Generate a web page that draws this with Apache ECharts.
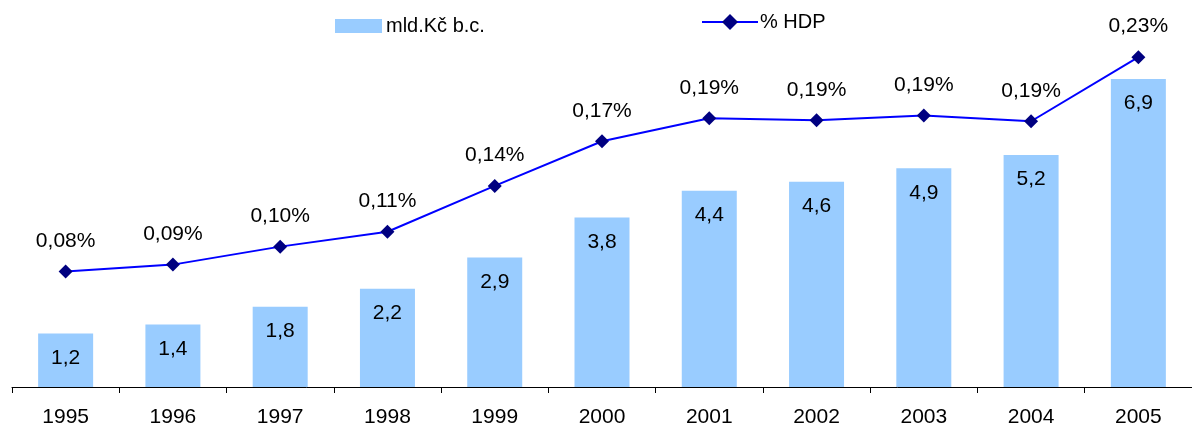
<!DOCTYPE html>
<html><head><meta charset="utf-8">
<script src="https://cdn.jsdelivr.net/npm/echarts@6/dist/echarts.min.js"></script>
<style>html,body{margin:0;padding:0;background:#fff}#c{width:1192px;height:428px}</style>
</head><body><div id="c"></div>
<script>
const categories = ['1995','1996','1997','1998','1999','2000','2001','2002','2003','2004','2005'];
const barValues = [1.2, 1.4, 1.8, 2.2, 2.9, 3.8, 4.4, 4.6, 4.9, 5.2, 6.9];
const hdpValues = [0.0808, 0.0857, 0.0983, 0.1087, 0.1408, 0.1721, 0.1882, 0.1868, 0.1902, 0.1861, 0.2310];
const barName = 'mld.Kč b.c.';
const lineName = '% HDP';

const FONT = 'Liberation Sans, Arial, sans-serif';
const FS = 21;
const chart = echarts.init(document.getElementById('c'));
chart.setOption({
  animation: false,
  backgroundColor: '#fff',
  textStyle: { fontFamily: FONT },
  legend: [
    { data: [{ name: barName, icon: 'rect' }], left: 335, top: 16, itemWidth: 47, itemHeight: 14, itemGap: 0, padding: 0,
      textStyle: { fontSize: 20, color: '#000', fontFamily: FONT, padding: [0,0,0,-1] } },
    { data: [lineName], left: 701, top: 12, itemWidth: 56, itemHeight: 20, itemGap: 0, padding: 0,
      lineStyle: { width: 2, color: '#0000FF' },
      textStyle: { fontSize: 20, color: '#000', fontFamily: FONT, padding: [0,0,0,-3] } }
  ],
  grid: { left: 12, top: 30, width: 1189, height: 358, containLabel: false },
  xAxis: {
    type: 'category', data: categories,
    axisLine: { lineStyle: { color: '#000', width: 1 } },
    axisTick: { show: true, length: 6, lineStyle: { color: '#000' } },
    axisLabel: { fontSize: FS, color: '#000', margin: 20, fontFamily: FONT }
  },
  yAxis: [
    { type: 'value', min: 0, max: 8, show: false, splitLine: { show: false } },
    { type: 'value', min: 0, max: 0.25, show: false, splitLine: { show: false } }
  ],
  series: [
    { name: barName, type: 'bar', data: barValues, barWidth: 55, yAxisIndex: 0,
      itemStyle: { color: '#99CCFF' },
      label: { show: true, position: 'insideTop', distance: 14, fontSize: FS, color: '#000', fontFamily: FONT,
        formatter: p => p.value.toFixed(1).replace('.', ',') } },
    { name: lineName, type: 'line', data: hdpValues, yAxisIndex: 1,
      symbol: 'diamond', symbolSize: 14,
      lineStyle: { color: '#0000FF', width: 2 },
      itemStyle: { color: '#000080' },
      label: { show: true, position: 'top', distance: 13, fontSize: FS, color: '#000', fontFamily: FONT,
        formatter: p => p.value.toFixed(2).replace('.', ',') + '%' } }
  ]
});
</script></body></html>
